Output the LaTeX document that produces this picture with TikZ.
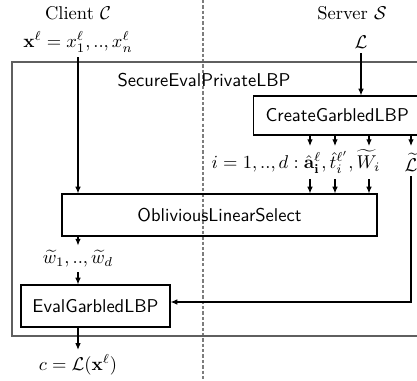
\documentclass[tikz,border=0pt]{standalone}
\usepackage{amsmath,amssymb}
\usetikzlibrary{arrows.meta}
\newcommand{\pxu}{0.54pt}
\definecolor{framegray}{RGB}{95,95,95}
\definecolor{dashgray}{RGB}{125,125,125}
\tikzset{
  box/.style={draw=black, line width=0.65pt, font=\sffamily, inner sep=0pt},
  flow/.style={-{Latex[length=3.6pt,width=3pt]}, line width=0.55pt},
  lbl/.style={inner sep=2.5pt},
}
\begin{document}
\begin{tikzpicture}[x=0.54pt, y=-0.54pt]
  \clip (0,0) rectangle (417,381);

  % client / server separator
  \draw[dashgray, line width=0.7pt, dash pattern=on 1.8pt off 1.1pt] (203,0) -- (203,381);

  % party headings and inputs
  \node[lbl] (client) at (78,13) {Client $\mathcal{C}$};
  \node[lbl] (server) at (352,13) {Server $\mathcal{S}$};
  \node[lbl] (xin) at (78,42) {$\mathbf{x}^\ell = x_1^\ell,..,x_n^\ell$};
  \node[lbl] (L) at (361,42) {$\mathcal{L}$};

  % outer protocol frame
  \draw[framegray, line width=0.6pt] (12,62) rectangle (440,336);
  \node[font=\sffamily] (title) at (204,80) {SecureEvalPrivateLBP};

  % sub-protocol boxes
  \node[box, anchor=west, minimum height=39*\pxu, text width=160*\pxu,
        align=left, inner xsep=12*\pxu] (create) at (253,115.5) {CreateGarbledLBP};
  \node[box, minimum width=315*\pxu, minimum height=42*\pxu] (obl) at (219.5,215) {ObliviousLinearSelect};
  \node[box, minimum width=149*\pxu, minimum height=42*\pxu] (eval) at (95.5,306) {EvalGarbledLBP};

  % garbled values
  \node[lbl] (gv) at (296,162) {$i=1,..,d:\hat{\mathbf{a}}_{\mathbf{i}}^{\ell},\hat{t}_i^{\ell'},\widetilde{W}_i$};
  \node[lbl] (Lt) at (411,162) {$\widetilde{\mathcal{L}}$};
  \node[lbl] (wv) at (78,259) {$\widetilde{w}_1,..,\widetilde{w}_d$};
  \node[lbl] (cout) at (78,365) {$c=\mathcal{L}(\mathbf{x}^\ell)$};

  % column and row helpers
  \coordinate (ca) at (310,0);
  \coordinate (cb) at (335,0);
  \coordinate (cc) at (369,0);
  \coordinate (cd) at (411,0);
  \coordinate (rtop) at (0,146);
  \coordinate (rbot) at (0,179);
  \coordinate (rturn) at (0,302);

  % connectors
  \draw[flow] (xin.south) -- (obl.north -| xin.south);
  \draw[flow] (L.south) -- (create.north -| L.south);
  \draw[flow] (create.south -| ca) -- (ca |- rtop);
  \draw[flow] (create.south -| cb) -- (cb |- rtop);
  \draw[flow] (create.south -| cc) -- (cc |- rtop);
  \draw[flow] (create.south -| cd) -- (cd |- rtop);
  \draw[flow] (ca |- rbot) -- (obl.north -| ca);
  \draw[flow] (cb |- rbot) -- (obl.north -| cb);
  \draw[flow] (cc |- rbot) -- (obl.north -| cc);
  \draw[flow] (obl.south -| wv.north) -- (wv.north);
  \draw[flow] (wv.south) -- (eval.north -| wv.south);
  \draw[flow] (Lt.south) -- (Lt.south |- rturn) -- (eval.east |- rturn);
  \draw[flow] (eval.south -| cout.north) -- (cout.north);
\end{tikzpicture}
\end{document}
